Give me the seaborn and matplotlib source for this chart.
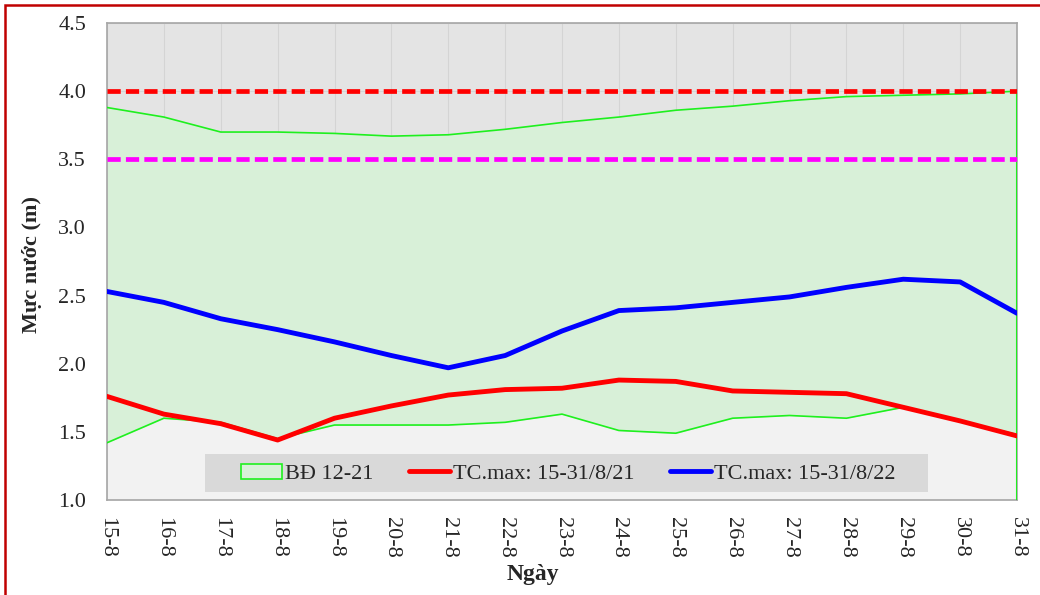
import numpy as np
import pandas as pd
import matplotlib
matplotlib.use("Agg")
import matplotlib.pyplot as plt
from matplotlib.patches import Rectangle, Patch
from matplotlib.lines import Line2D
import seaborn as sns

days = ["15-8", "16-8", "17-8", "18-8", "19-8", "20-8", "21-8", "22-8", "23-8",
        "24-8", "25-8", "26-8", "27-8", "28-8", "29-8", "30-8", "31-8"]
band_upper = [3.88, 3.81, 3.70, 3.70, 3.69, 3.67, 3.68, 3.72, 3.77,
              3.81, 3.86, 3.89, 3.93, 3.96, 3.97, 3.98, 4.00]
band_lower = [1.42, 1.60, 1.57, 1.45, 1.55, 1.55, 1.55, 1.57, 1.63,
              1.51, 1.49, 1.60, 1.62, 1.60, 1.68, 1.58, 1.48]
tc_2021 = [1.76, 1.63, 1.56, 1.44, 1.60, 1.69, 1.77, 1.81, 1.82,
           1.88, 1.87, 1.80, 1.79, 1.78, 1.68, 1.58, 1.47]
tc_2022 = [2.53, 2.45, 2.33, 2.25, 2.16, 2.06, 1.97, 2.06, 2.24,
           2.39, 2.41, 2.45, 2.49, 2.56, 2.62, 2.60, 2.37]
alarm_levels = [4.0, 3.5]
alarm_colors = ["#ff0000", "#ff00ff"]
labels = ["BĐ 12-21", "TC.max: 15-31/8/21", "TC.max: 15-31/8/22"]

sns.set_style("white")
plt.rcParams["font.family"] = ["Liberation Serif", "DejaVu Serif"]

fig = plt.figure(figsize=(10.4, 5.95), dpi=100)
ax = fig.add_axes([0.1029, 0.1597, 0.875, 0.8016])

x = np.arange(len(days))
ymin = 1.0
ax.set_facecolor("#e4e4e4")
ax.fill_between(x, ymin, band_lower, color="#f2f2f2", lw=0, zorder=1)
ax.fill_between(x, band_lower, band_upper, color="#d8f0d8", lw=0, zorder=1)
ax.plot(x, band_upper, color="#1ef01e", lw=1.2, zorder=3)
ax.plot(x, band_lower, color="#1ef01e", lw=1.2, zorder=3)
ax.vlines(x[-1], ymin, band_upper[-1], color="#1ef01e", lw=1.5, zorder=3)

for lv, c in zip(alarm_levels, alarm_colors):
    ax.axhline(lv, color=c, lw=3.4, ls=(0, (2.8, 1.1)), zorder=4)

df = pd.DataFrame({"x": x, "y21": tc_2021, "y22": tc_2022})
sns.lineplot(data=df, x="x", y="y21", ax=ax, color="#ff0000", lw=3.5, zorder=5)
sns.lineplot(data=df, x="x", y="y22", ax=ax, color="#0000ff", lw=3.5, zorder=5)

ax.set_xlim(x[0], x[-1])
ax.set_ylim(1.0, 4.5)
yt = np.arange(1.0, 4.51, 0.5)
ax.set_yticks(yt)
ax.set_yticklabels([f"{v:.1f}" for v in yt], fontsize=16)
ax.set_xticks(x)
ax.set_xticklabels(days, rotation=-90, fontsize=16)
ax.grid(True, color="#d4d4d4", lw=0.8, zorder=2)
ax.set_axisbelow(True)
for s in ax.spines.values():
    s.set_color("#a6a6a6")
    s.set_linewidth(1.2)
ax.tick_params(axis="x", length=5, width=1, color="#a6a6a6", pad=7)
ax.tick_params(axis="y", length=0, pad=15)

ax.set_xlabel("Ngày", fontsize=17, fontweight="bold", va="center")
ax.xaxis.set_label_coords(0.4676, -0.157)
ax.set_ylabel("Mực nước (m)", fontsize=16, fontweight="bold", va="center")
ax.yaxis.set_label_coords(-0.0825, 0.494)

ax.add_patch(Rectangle((0.1077, 0.0168), 0.7945, 0.0797, transform=ax.transAxes,
                       facecolor="#d9d9d9", edgecolor="none", zorder=9))
handles = [Patch(facecolor="#d8f0d8", edgecolor="#1ef01e", lw=1.2),
           Line2D([], [], color="#ff0000", lw=3.5),
           Line2D([], [], color="#0000ff", lw=3.5)]
leg = ax.legend(handles, labels, ncol=3, loc="center",
                bbox_to_anchor=(0.507, 0.0545), fontsize=16, frameon=False,
                handlelength=1.85, handletextpad=0.13, columnspacing=1.6,
                borderaxespad=0, borderpad=0)
leg.set_zorder(10)

fig.patches.append(Rectangle((5 / 1040, -0.1), 1.2, 1.1 - 5 / 595, transform=fig.transFigure,
                             fill=False, edgecolor="#c00000", lw=1.8))

fig.savefig("out.png", dpi=100)
